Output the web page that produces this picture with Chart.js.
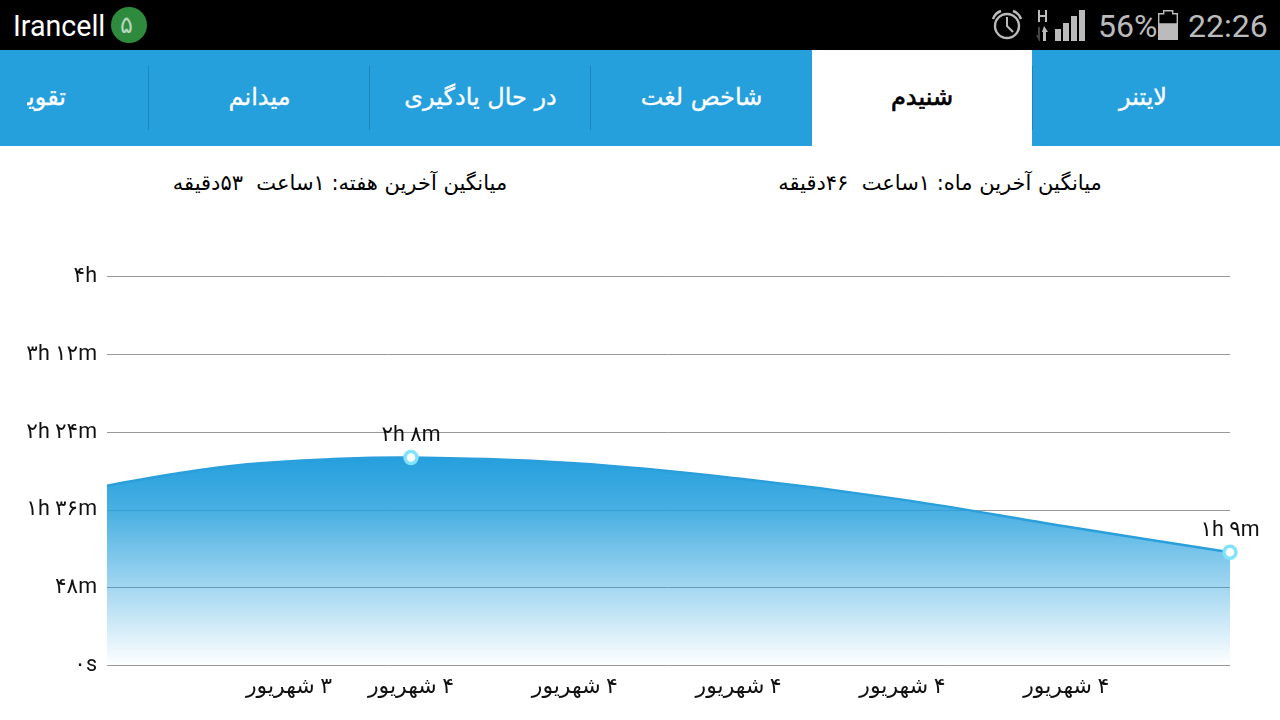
<!DOCTYPE html>
<html lang="fa">
<head>
<meta charset="utf-8">
<title>شنیدم</title>
<script src="https://cdn.jsdelivr.net/npm/chart.js@4"></script>
<style>
    html, body { margin: 0; padding: 0; background: #fff; }
    body { position: relative; width: 1280px; height: 720px; overflow: hidden; font-family: 'DejaVu Sans', sans-serif; }
    .status { position: absolute; left: 0; top: 0; width: 1280px; height: 50px; background: #000; }
    .status span { position: absolute; font-family: Roboto, sans-serif; white-space: nowrap; line-height: 50px; top: 1px; }
    .tabs { position: absolute; left: 0; top: 50px; width: 1280px; height: 96px; background: #25a0dd; overflow: hidden; }
    .tab { position: absolute; top: 0; height: 96px; line-height: 94px; text-align: center; color: #fff; font-size: 24px; white-space: nowrap; -webkit-text-stroke: 0.3px #fff; }
    .tab.active { background: #fff; color: #000; font-size: 24px; -webkit-text-stroke: 0.7px #000; }
    .sep { position: absolute; top: 16px; width: 1px; height: 64px; background: #1c85ba; }
    .avg { position: absolute; top: 170px; width: 500px; text-align: center; font-size: 21px; line-height: 26px; white-space: pre; color: #000; }
    .chart-wrap { position: absolute; left: 0; top: 146px; width: 1280px; height: 574px; }
</style>
</head>
<body>
<div class="status">
    <span style="left:13px;font-size:28.6px;color:#fff">Irancell</span>
    <svg style="position:absolute;left:0;top:0" width="1280" height="50">
        <circle cx="129" cy="25" r="18" fill="#2e8b3d"/>
        <g fill="none" stroke="#bbb">
            <circle cx="1007" cy="26" r="12" stroke-width="2.4"/>
            <path d="M1007 17v9l6 6" stroke-width="2"/>
            <path d="M993 19q2-6 8-8M1021 19q-2-6-8-8" stroke-width="2.4"/>
        </g>
        <g fill="#bbb">
            <path d="M1038 10h2v5h5v-5h2v12h-2v-5h-5v5h-2z"/>
            <path d="M1044 26l4 6h-2v9h-3v-9h-1z"/>
            <rect x="1055" y="29" width="6" height="12"/>
            <rect x="1063" y="23" width="6" height="18"/>
            <rect x="1071" y="16" width="6" height="25"/>
            <rect x="1079" y="10" width="6" height="31"/>
            <path d="M1158 24h20v16h-20z"/>
        </g>
        <path d="M1039 41l-3-6h2v-8h2v14z" fill="#444"/>
        <path d="M1158.7 13.7h5v-3h9v3h4.6v10.3h-18.6z" fill="none" stroke="#bbb" stroke-width="1.4"/>
    </svg>
    <span style="left:120px;top:0;font-size:24px;color:#b5d6ba;font-family:'DejaVu Sans'">۵</span>
    <span style="left:1098px;font-size:32px;color:#bbb">56%</span>
    <span style="left:1188px;font-size:32px;color:#bbb">22:26</span>
</div>
<div class="tabs">
    <div class="tab" style="left:1032px;width:222px">لایتنر</div>
    <div class="tab active" style="left:812px;width:220px">شنیدم</div>
    <div class="tab" style="left:591px;width:221px">شاخص لغت</div>
    <div class="tab" style="left:370px;width:221px">در حال یادگیری</div>
    <div class="tab" style="left:149px;width:221px">میدانم</div>
    <div class="tab" style="left:27px;width:39px;overflow:hidden;direction:rtl;text-align:right">تقویت</div>
    <div class="sep" style="left:148px"></div>
    <div class="sep" style="left:369px"></div>
    <div class="sep" style="left:590px"></div>
    <div class="sep" style="left:1032px"></div>
</div>
<div class="avg" dir="rtl" style="left:690px">میانگین آخرین ماه: ۱ساعت  ۴۶دقیقه</div>
<div class="avg" dir="rtl" style="left:90px">میانگین آخرین هفته: ۱ساعت  ۵۳دقیقه</div>
<div class="chart-wrap"><canvas id="listenChart"></canvas></div>

<script>
// minutes listened, x is day slot (0 = first labelled point)
const daySlots = [-1.856, -1.43, -1, -0.5, 0, 1, 2, 3, 4, 5];
const minutes = [111, 118.5, 124.2, 127.3, 128.4, 124.8, 115.4, 102.4, 85.8, 69.9];
const pointLabels = ['', '', '', '', '۲h ۸m', '', '', '', '', '۱h ۹m'];

const yTickValues = [0, 48, 96, 144, 192, 240];
const yTickLabels = ['۰s', '۴۸m', '۱h ۳۶m', '۲h ۲۴m', '۳h ۱۲m', '۴h'];

const xTickValues = [-0.745, 0, 1, 2, 3, 4];
const xTickLabels = ['\u200F۳ شهریور', '\u200F۴ شهریور', '\u200F۴ شهریور', '\u200F۴ شهریور', '\u200F۴ شهریور', '\u200F۴ شهریور'];

const labelFont = '21.5px Roboto, "DejaVu Sans"';

// value labels above the marked points
const pointLabelPlugin = {
    id: 'pointLabelPlugin',
    afterDatasetsDraw(chart) {
        const ctx = chart.ctx;
        const meta = chart.getDatasetMeta(0);
        ctx.save();
        ctx.font = labelFont;
        ctx.fillStyle = '#111';
        ctx.textAlign = 'center';
        ctx.textBaseline = 'middle';
        pointLabels.forEach((label, i) => {
            if (label) ctx.fillText(label, meta.data[i].x, meta.data[i].y - 22);
        });
        ctx.restore();
    }
};

new Chart(document.getElementById('listenChart'), {
    type: 'line',
    data: {
        datasets: [{
            data: daySlots.map((x, i) => ({ x: x, y: minutes[i] })),
            borderColor: '#2a9fdc',
            borderWidth: 2.5,
            tension: 0.4,
            clip: false,
            fill: 'origin',
            backgroundColor: (context) => {
                const { chart } = context;
                if (!chart.chartArea) return '#25a0dd';
                const top = chart.scales.y.getPixelForValue(128);
                const g = chart.ctx.createLinearGradient(0, top, 0, chart.chartArea.bottom);
                g.addColorStop(0, 'rgba(37, 160, 221, 1)');
                g.addColorStop(0.26, 'rgba(37, 160, 221, 0.83)');
                g.addColorStop(1, 'rgba(37, 160, 221, 0)');
                return g;
            },
            pointRadius: pointLabels.map(l => l ? 6 : 0),
            pointBorderWidth: 3.5,
            pointBorderColor: '#80e3fb',
            pointBackgroundColor: '#fff'
        }]
    },
    options: {
        responsive: true,
        maintainAspectRatio: false,
        animation: false,
        layout: { padding: { top: 130.6, right: 50, left: 0, bottom: 0 } },
        plugins: { legend: { display: false }, tooltip: { enabled: false } },
        scales: {
            x: {
                type: 'linear',
                min: -1.856,
                max: 5,
                border: { display: false },
                grid: { display: false },
                afterFit: (scale) => { scale.height = 54.4; },
                afterBuildTicks: (scale) => { scale.ticks = xTickValues.map(v => ({ value: v })); },
                ticks: {
                    autoSkip: false,
                    maxRotation: 0,
                    padding: 1,
                    color: '#111',
                    font: { family: 'Roboto, "DejaVu Sans"', size: 22 },
                    callback: (value) => xTickLabels[xTickValues.indexOf(value)]
                }
            },
            y: {
                min: 0,
                max: 240,
                border: { display: false },
                grid: { color: '#999', lineWidth: 1, drawTicks: false },
                afterFit: (scale) => { scale.width = 107; },
                afterBuildTicks: (scale) => { scale.ticks = yTickValues.map(v => ({ value: v })); },
                ticks: {
                    padding: 10,
                    color: '#111',
                    font: { family: 'Roboto, "DejaVu Sans"', size: 21.5 },
                    callback: (value) => yTickLabels[yTickValues.indexOf(value)]
                }
            }
        }
    },
    plugins: [pointLabelPlugin]
});
</script>
</body>
</html>
